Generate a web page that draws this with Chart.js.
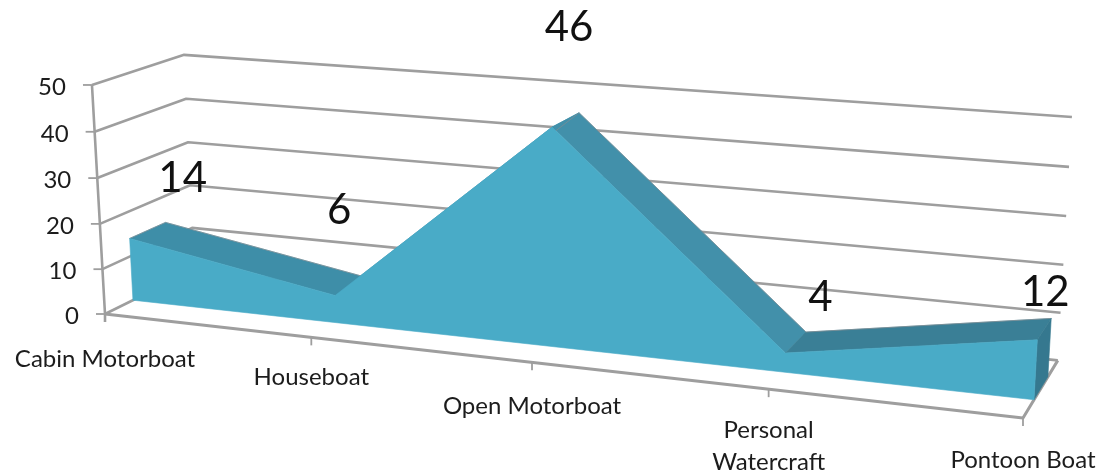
<!DOCTYPE html>
<html>
<head>
<meta charset="utf-8">
<title>Boats</title>
<script src="https://cdn.jsdelivr.net/npm/chart.js@4"></script>
<style>
  html, body { margin: 0; padding: 0; background: #fff; }
  canvas { display: block; }
</style>
</head>
<body>
<canvas id="chart" width="1102" height="476"></canvas>
<script>
// Chart data
const categories = ['Cabin Motorboat', 'Houseboat', 'Open Motorboat', 'Personal Watercraft', 'Pontoon Boat'];
const boatCounts = [14, 6, 46, 4, 12];
const valueTicks = [0, 10, 20, 30, 40, 50];

// Where the labels sit relative to their anchor (the picture places them by hand)
const valueLabelShift = [[53, -60], [4, -85], [17, -100], [35, -56], [8, -47]];
const categoryLabelDrop = [45, 40, 44, 41, 42];

const GRID = '#9e9e9e';
const TEXT = '#1c1c1c';
const FRONT = '#49abc7';
const FACETS = ['#3e8ea8', '#3f8fa9', '#4290aa', '#3a7f96'];
const SIDE = '#35788f';
const EDGE = 'rgba(130, 140, 145, 0.7)';
const FONT = 'Lato, "Open Sans", sans-serif';

// Area sits between these depths inside the 3D box
const AREA_FRONT = 0.3;
const AREA_BACK = 0.7;

// Perspective projection of the box: u along categories, v up the values, d into the page
function project(u, v, d) {
  const w = 1 - 0.1303 * u - 0.0268 * v + 0.068 * d;
  return {
    x: (105 + 784.7 * u - 15.5 * v + 102.2 * d) / w,
    y: (314 + 49.5 * u - 231.3 * v - 25.6 * d) / w
  };
}

function fillPoly(ctx, pts, color) {
  ctx.beginPath();
  pts.forEach((p, i) => (i ? ctx.lineTo(p.x, p.y) : ctx.moveTo(p.x, p.y)));
  ctx.closePath();
  ctx.fillStyle = color;
  ctx.fill();
  // same colour hairline so neighbouring facets have no gaps
  ctx.strokeStyle = color;
  ctx.lineWidth = 0.6;
  ctx.stroke();
}

function strokeLine(ctx, pts, color, width) {
  ctx.beginPath();
  pts.forEach((p, i) => (i ? ctx.lineTo(p.x, p.y) : ctx.moveTo(p.x, p.y)));
  ctx.strokeStyle = color;
  ctx.lineWidth = width;
  ctx.lineJoin = 'round';
  ctx.stroke();
}

// Fractions of the flat scales, so every mark still comes from the chart's axes
function uOf(chart, index) {
  const x = chart.scales.x;
  return (x.getPixelForValue(index) - x.left) / x.width;
}
function vOf(chart, value) {
  const y = chart.scales.y;
  return (y.bottom - y.getPixelForValue(value)) / y.height;
}

const area3d = {
  id: 'area3d',
  afterDatasetsDraw(chart) {
    const ctx = chart.ctx;
    ctx.save();

    // Walls and floor
    valueTicks.forEach(tick => {
      const v = vOf(chart, tick);
      strokeLine(ctx, [project(0, v, 0), project(0, v, 1), project(1, v, 1)], GRID, 2.6);
      const p = project(0, v, 0);
      strokeLine(ctx, [{ x: p.x - 9, y: p.y }, p], GRID, 1.8);
    });
    strokeLine(ctx, [project(0, 1, 0), project(0, 0, 0), { x: project(0, 0, 0).x, y: project(0, 0, 0).y + 8 }], GRID, 2.6);
    strokeLine(ctx, [project(0, 0, 0), project(1, 0, 0), project(1, 0, 1)], GRID, 3);
    categories.forEach((c, i) => {
      const p = project(uOf(chart, i), 0, 0);
      strokeLine(ctx, [p, { x: p.x, y: p.y + 8 }], GRID, 1.8);
    });

    // Area: top facets, right side, then the front face over them
    const front = boatCounts.map((val, i) => project(uOf(chart, i), vOf(chart, val), AREA_FRONT));
    const back = boatCounts.map((val, i) => project(uOf(chart, i), vOf(chart, val), AREA_BACK));
    const last = categories.length - 1;
    for (let i = 0; i < last; i++) {
      fillPoly(ctx, [front[i], front[i + 1], back[i + 1], back[i]], FACETS[i]);
    }
    strokeLine(ctx, [front[0], ...back], EDGE, 1);
    fillPoly(ctx, [
      front[last], back[last],
      project(uOf(chart, last), 0, AREA_BACK), project(uOf(chart, last), 0, AREA_FRONT)
    ], SIDE);
    fillPoly(ctx, [
      project(uOf(chart, 0), 0, AREA_FRONT), ...front, project(uOf(chart, last), 0, AREA_FRONT)
    ], FRONT);

    // Value axis text follows the slanted axis
    ctx.fillStyle = TEXT;
    ctx.font = '24px ' + FONT;
    ctx.textAlign = 'right';
    ctx.textBaseline = 'middle';
    valueTicks.forEach(tick => {
      const p = project(0, vOf(chart, tick), 0);
      ctx.fillText(String(tick), p.x - 26, p.y + 2);
    });

    // Category labels, split over two lines when they have a space and are long
    ctx.textAlign = 'center';
    categories.forEach((name, i) => {
      const p = project(uOf(chart, i), 0, 0);
      const y = p.y + categoryLabelDrop[i];
      if (name === 'Personal Watercraft') {
        ctx.fillText('Personal', p.x, y);
        ctx.fillText('Watercraft', p.x, y + 32);
      } else {
        ctx.fillText(name, p.x, y);
      }
    });

    // Big value labels
    ctx.font = '42px ' + FONT;
    ctx.fillStyle = '#111';
    boatCounts.forEach((val, i) => {
      ctx.fillText(String(val), front[i].x + valueLabelShift[i][0], front[i].y + valueLabelShift[i][1]);
    });

    ctx.restore();
  }
};

new Chart(document.getElementById('chart'), {
  type: 'line',
  data: {
    labels: categories,
    datasets: [{
      label: 'Boats',
      data: boatCounts,
      showLine: false,
      pointRadius: 0,
      borderWidth: 0
    }]
  },
  options: {
    responsive: false,
    animation: false,
    layout: { padding: { left: 105, right: 79, top: 85, bottom: 58 } },
    plugins: { legend: { display: false }, tooltip: { enabled: false } },
    scales: {
      x: {
        offset: false,
        grid: { display: false },
        border: { display: false },
        ticks: { display: false }
      },
      y: {
        min: 0,
        max: 50,
        afterBuildTicks: axis => { axis.ticks = valueTicks.map(value => ({ value })); },
        grid: { display: false },
        border: { display: false },
        ticks: { display: false }
      }
    }
  },
  plugins: [area3d]
});
</script>
</body>
</html>
